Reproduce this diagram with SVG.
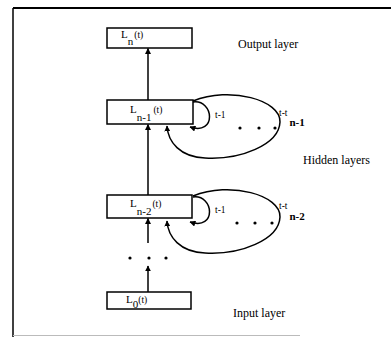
<svg xmlns="http://www.w3.org/2000/svg" width="391" height="337" viewBox="0 0 391 337">
<defs>
<marker id="ah" viewBox="0 0 10 10" refX="9" refY="5" markerWidth="6" markerHeight="6" markerUnits="userSpaceOnUse" orient="auto">
<path d="M0,0 L10,5 L0,10 z" fill="#000"/>
</marker>
<style>
.box{fill:#fff;stroke:#000;stroke-width:1.5}
.edge{fill:none;stroke:#000;stroke-width:1.5}
.lbl{font-family:"Liberation Serif",serif;fill:#000}
.big{font-size:12px}
.nm{font-size:11px}
.sm{font-size:9.5px}
.bd{font-weight:bold}
.dot{fill:#000}
</style>
</defs>
<rect width="391" height="337" fill="#fff"/>
<g id="frame">
<line x1="13" y1="8" x2="391" y2="8" stroke="#000" stroke-width="2"/>
<line x1="13" y1="8" x2="13" y2="337" stroke="#000" stroke-width="1.5"/>
<line x1="13" y1="335.5" x2="300" y2="335.5" stroke="#bbb" stroke-width="1"/>
</g>
<g id="connectors">
<line class="edge" x1="148" y1="100" x2="148" y2="48.5" marker-end="url(#ah)"/>
<line class="edge" x1="148" y1="195" x2="148" y2="124.5" marker-end="url(#ah)"/>
<line class="edge" x1="148" y1="243" x2="148" y2="218.5" marker-end="url(#ah)"/>
<line class="edge" x1="148" y1="292" x2="148" y2="266" marker-end="url(#ah)"/>
<g id="loops-n1">
<path class="edge" d="M193,102 C214,99 217,136 190,127" marker-end="url(#ah)"/>
<path class="edge" d="M193,101 C230,86 281,100 280,122 C279,145 240,160 205,158 C180,157 168,142 167,126" marker-end="url(#ah)"/>
</g>
<g id="loops-n2" transform="translate(0,95)">
<path class="edge" d="M193,102 C214,99 217,136 190,127" marker-end="url(#ah)"/>
<path class="edge" d="M193,101 C230,86 281,100 280,122 C279,145 240,160 205,158 C180,157 168,142 167,126" marker-end="url(#ah)"/>
</g>
</g>
<g id="node-ln">
<rect class="box" x="107" y="28" width="85" height="20"/>
<text class="lbl nm" x="121" y="38">L<tspan dy="7">n</tspan><tspan class="sm" dx="1" dy="-7">(t)</tspan></text>
</g>
<g id="node-ln1">
<rect class="box" x="107" y="100" width="86" height="24"/>
<text class="lbl nm" x="130" y="113">L<tspan dy="8">n-1</tspan><tspan class="sm" dx="2" dy="-8">(t)</tspan></text>
</g>
<g id="node-ln2">
<rect class="box" x="107" y="195" width="85" height="23"/>
<text class="lbl nm" x="130" y="207">L<tspan dy="8">n-2</tspan><tspan class="sm" dx="1" dy="-8">(t)</tspan></text>
</g>
<g id="node-l0">
<rect class="box" x="107" y="292" width="84" height="17"/>
<text class="lbl nm" x="126" y="303">L<tspan dy="5">0</tspan><tspan class="sm" dy="-5">(t)</tspan></text>
</g>
<g id="labels">
<text class="lbl big" x="238" y="48">Output layer</text>
<text class="lbl big" x="303" y="164">Hidden layers</text>
<text class="lbl big" x="233" y="317">Input layer</text>
<text class="lbl sm" x="215" y="118">t-1</text>
<text class="lbl sm" x="279" y="116">t-t<tspan class="nm bd" dx="2" dy="10">n-1</tspan></text>
<text class="lbl sm" x="215" y="213">t-1</text>
<text class="lbl sm" x="279" y="209">t-t<tspan class="nm bd" dx="2" dy="11">n-2</tspan></text>
</g>
<g id="dots">
<circle class="dot" cx="240" cy="128" r="1.6"/>
<circle class="dot" cx="259" cy="128" r="1.6"/>
<circle class="dot" cx="275" cy="128" r="1.6"/>
<circle class="dot" cx="237" cy="223" r="1.6"/>
<circle class="dot" cx="255" cy="223" r="1.6"/>
<circle class="dot" cx="272" cy="223" r="1.6"/>
<circle class="dot" cx="130" cy="258" r="1.6"/>
<circle class="dot" cx="149" cy="258" r="1.6"/>
<circle class="dot" cx="166" cy="258" r="1.6"/>
</g>
</svg>
